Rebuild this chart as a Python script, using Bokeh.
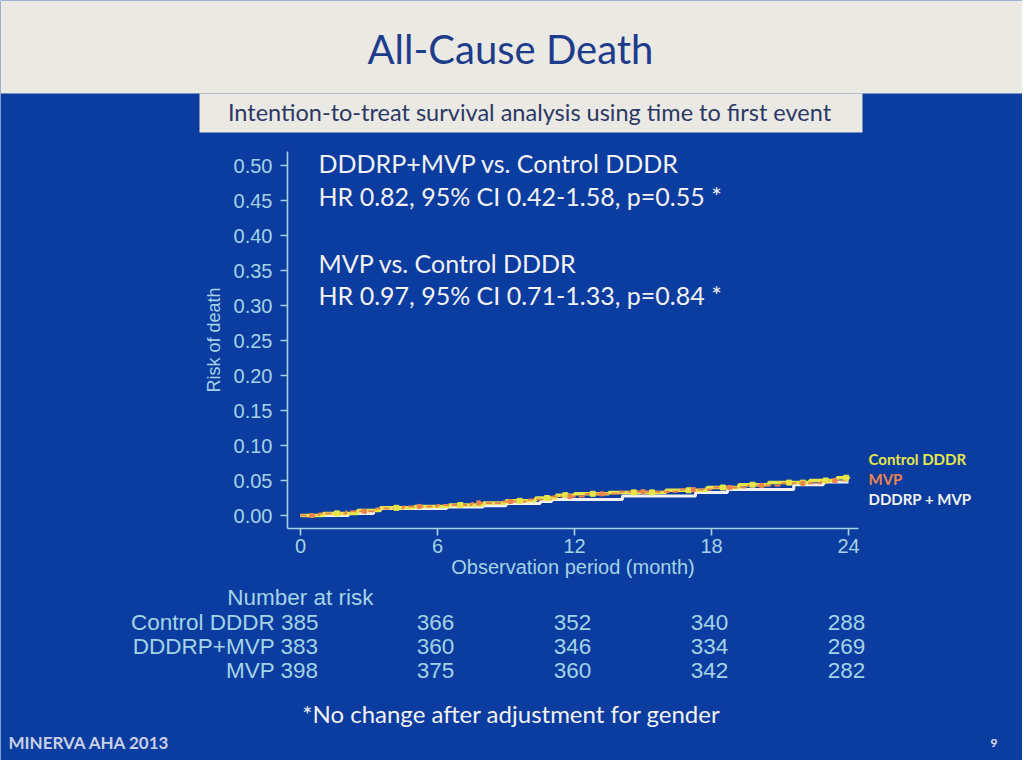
from bokeh.plotting import figure
from bokeh.models import Label, BoxAnnotation, FixedTicker, Range1d, NumeralTickFormatter, LinearAxis
from bokeh.embed import file_html
from bokeh.resources import INLINE

# ---------------- data ----------------
months_ticks = [0, 6, 12, 18, 24]
risk_ticks = [0.0, 0.05, 0.10, 0.15, 0.20, 0.25, 0.30, 0.35, 0.40, 0.45, 0.50]

# Kaplan-Meier cumulative risk of death (step functions)
ctrl_t = [0, 1.0, 2.5, 3.5, 5.0, 6.5, 8.0, 9.0, 10.3, 11.2, 12.0, 13.5, 16.0, 17.8, 19.2, 20.5, 22.3, 23.5, 24]
ctrl_r = [0, 0.003, 0.007, 0.011, 0.013, 0.015, 0.018, 0.021, 0.025, 0.029, 0.031, 0.033, 0.036, 0.040, 0.044, 0.047, 0.050, 0.054, 0.055]

mvp_t = [0, 0.8, 2.0, 3.3, 4.5, 6.0, 7.5, 8.8, 10.0, 11.0, 12.5, 14.0, 16.5, 18.0, 19.5, 21.0, 22.8, 24]
mvp_r = [0, 0.003, 0.006, 0.010, 0.013, 0.015, 0.018, 0.020, 0.023, 0.027, 0.031, 0.034, 0.037, 0.040, 0.043, 0.046, 0.050, 0.052]

dddrp_t = [0, 2.1, 3.2, 3.5, 6.4, 8.0, 9.0, 10.5, 11.0, 14.1, 17.3, 18.7, 21.6, 22.9, 24]
dddrp_r = [0, 0.003, 0.007, 0.010, 0.012, 0.014, 0.017, 0.020, 0.023, 0.028, 0.033, 0.037, 0.044, 0.048, 0.048]

# censoring marks (time, risk)
ctrl_cens_t = [1.6, 4.2, 7.0, 9.6, 10.8, 11.6, 12.8, 14.6, 15.4, 17.0, 18.5, 19.8, 21.4, 22.0, 23.0, 23.9]
ctrl_cens_r = [0.003, 0.011, 0.015, 0.021, 0.025, 0.029, 0.031, 0.033, 0.033, 0.036, 0.040, 0.044, 0.047, 0.047, 0.050, 0.054]
mvp_cens_t = [0.5, 2.8, 5.2, 7.8, 9.2, 11.8, 13.2, 15.0, 17.2, 18.8, 20.2, 22.0, 23.4]
mvp_cens_r = [0.000, 0.006, 0.013, 0.018, 0.020, 0.027, 0.031, 0.034, 0.037, 0.040, 0.043, 0.046, 0.050]

groups = ["Control DDDR", "DDDRP+MVP", "MVP"]
at_risk = {
    "Control DDDR": [385, 366, 352, 340, 288],
    "DDDRP+MVP": [383, 360, 346, 334, 269],
    "MVP": [398, 375, 360, 342, 282],
}

legend_names = ["Control DDDR", "MVP", "DDDRP + MVP"]

title = "All-Cause Death"
subtitle = "Intention-to-treat survival analysis using time to first event"
ann_lines = ["DDDRP+MVP vs. Control DDDR", "HR 0.82, 95% CI 0.42-1.58, p=0.55 *",
             "MVP vs. Control DDDR", "HR 0.97, 95% CI 0.71-1.33, p=0.84 *"]
footnote = "*No change after adjustment for gender"
footer_left = "MINERVA AHA 2013"
page_no = "9"

# ---------------- style / layout ----------------
W, H = 1022, 760
BG = "#0b3c9f"
AX = "#a3d4e6"
YEL = "#e4e64a"
ORG = "#ec8450"
WHT = "#f2f2f2"
CH_FONT = "Liberation Sans"
SL_FONT = "Lato"
K_BASE = 0.42   # baseline correction (fraction of font size)

# pixel geometry of the chart area (canvas px, y from top)
X0_PX, X24_PX = 300.0, 848.0        # months 0 and 24
Y0_PX, Y50_PX = 515.0, 165.0        # risk 0.00 and 0.50
AX_LEFT_PX, AX_RIGHT_PX = 287.0, 858.0
AX_BOTTOM_PX, AX_TOP_PX = 528.0, 151.0

sx = (X24_PX - X0_PX) / 24.0
sy = (Y0_PX - Y50_PX) / 0.5
px2x = lambda px: (px - X0_PX) / sx
px2y = lambda py: (Y0_PX - py) / sy

p = figure(width=W, height=H, output_backend="svg", toolbar_location=None,
           x_range=Range1d(px2x(0), px2x(W)), y_range=Range1d(px2y(H), px2y(0)),
           x_axis_location=None, y_axis_location=None,
           min_border=0, min_border_left=0, min_border_right=0, min_border_top=0, min_border_bottom=0,
           background_fill_color=BG, border_fill_color=BG, outline_line_color=None)
p.grid.visible = False

xaxis = LinearAxis(fixed_location=px2y(AX_BOTTOM_PX), bounds=(px2x(AX_LEFT_PX), px2x(AX_RIGHT_PX)))
yaxis = LinearAxis(fixed_location=px2x(AX_LEFT_PX), bounds=(px2y(AX_BOTTOM_PX), px2y(AX_TOP_PX)))
p.add_layout(xaxis, "below")
p.add_layout(yaxis, "left")

for ax in (xaxis, yaxis):
    ax.axis_line_color = AX
    ax.axis_line_width = 1.6
    ax.major_tick_line_color = AX
    ax.major_tick_line_width = 1.6
    ax.major_tick_in = 0
    ax.major_tick_out = 7
    ax.minor_tick_line_color = None
    ax.major_label_text_color = AX
    ax.major_label_text_font = CH_FONT
    ax.major_label_text_font_size = "20px"
    ax.axis_label_text_color = AX
    ax.axis_label_text_font = CH_FONT
    ax.axis_label_text_font_style = "normal"

xaxis.ticker = FixedTicker(ticks=months_ticks)
xaxis.axis_label = "Observation period (month)"
xaxis.axis_label_text_font_size = "20px"
xaxis.axis_label_standoff = 0
xaxis.major_label_standoff = 3

yaxis.ticker = FixedTicker(ticks=risk_ticks)
yaxis.formatter = NumeralTickFormatter(format="0.00")
yaxis.axis_label = "Risk of death"
yaxis.axis_label_text_font_size = "18px"
yaxis.axis_label_standoff = 7
yaxis.major_label_standoff = 8

# ---------------- slide decorations ----------------
def box(l, t, r, b, color):
    p.add_layout(BoxAnnotation(left=l, right=r, top=t, bottom=b,
                               left_units="canvas", right_units="canvas",
                               top_units="canvas", bottom_units="canvas",
                               fill_color=color, fill_alpha=1, line_color=None, level="underlay"))

def lab(text, x, y, size, color, font=SL_FONT, align="left", style="normal"):
    p.add_layout(Label(x=x, y=y - K_BASE * size, x_units="canvas", y_units="canvas", text=text,
                       text_font=font, text_font_size=f"{size}px", text_color=color,
                       text_align=align, text_baseline="alphabetic", text_font_style=style))

box(0, 0, W, 93, "#ebe9e3")
box(199, 93, 862, 132, "#ebe9e3")

# curves
p.step(dddrp_t, dddrp_r, mode="after", line_color=WHT, line_width=3)
p.step(ctrl_t, ctrl_r, mode="after", line_color=YEL, line_width=3.5)
p.step(mvp_t, mvp_r, mode="after", line_color=ORG, line_width=2, line_dash="6 3")
p.scatter(ctrl_cens_t, ctrl_cens_r, marker="square", size=5, fill_color=YEL, line_color=YEL)
p.scatter(mvp_cens_t, mvp_cens_r, marker="square", size=4, fill_color=ORG, line_color=ORG)

lab(title, 510, 65, 40, "#1d3c8c", align="center")
lab(subtitle, 529, 121, 23.5, "#2b3866", align="center")

for txt, yb in zip(ann_lines, [173, 206, 273, 305]):
    lab(txt, 318, yb, 25, WHT)

for txt, col, yb in zip(legend_names, [YEL, ORG, WHT], [465, 485, 505]):
    lab(txt, 868, yb, 15, col, style="bold")

# number at risk table
TBL = 22.5
lab("Number at risk", 373, 606, 22.5, AX, font=CH_FONT, align="right")
row_base = [631, 655, 679]
for g, yb in zip(groups, row_base):
    vals = at_risk[g]
    p.add_layout(Label(x=months_ticks[0], y=yb - K_BASE * TBL, x_units="data", y_units="canvas",
                       x_offset=18, text=f"{g} {vals[0]}", text_font=CH_FONT, text_font_size=f"{TBL}px",
                       text_color=AX, text_align="right", text_baseline="alphabetic"))
    for m, v in zip(months_ticks[1:], vals[1:]):
        p.add_layout(Label(x=m, y=yb - K_BASE * TBL, x_units="data", y_units="canvas", x_offset=-2,
                           text=str(v), text_font=CH_FONT, text_font_size=f"{TBL}px",
                           text_color=AX, text_align="center", text_baseline="alphabetic"))

lab(footnote, 511, 723, 24, WHT, align="center")
lab(footer_left, 8, 749, 17, "#c9cfe6", style="bold")
lab(page_no, 990, 748, 12, "#e0e4f0", style="bold")

open("out.html", "w").write(file_html(p, INLINE))
